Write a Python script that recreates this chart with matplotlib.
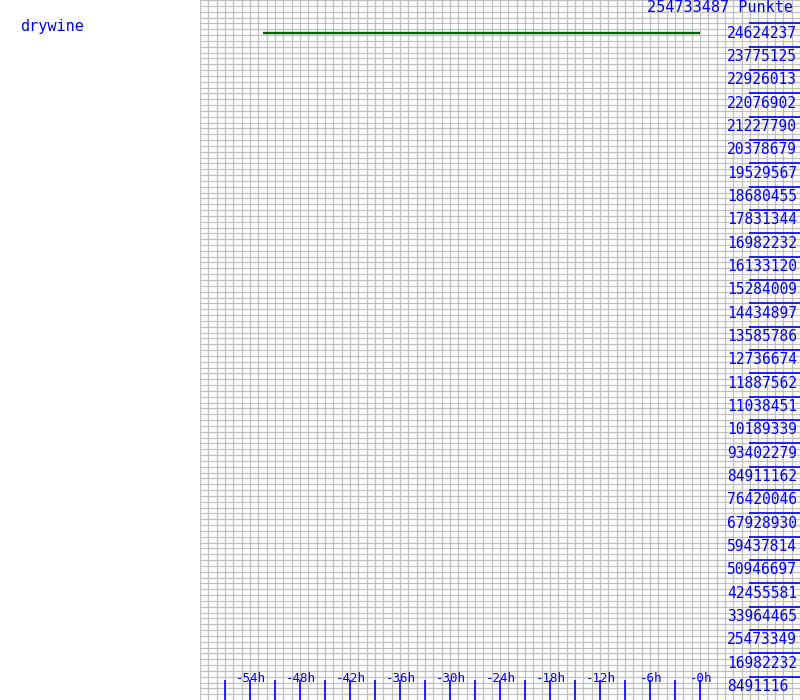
import numpy as np
from matplotlib import pyplot as plt

# data
player = "drywine"
total_points = "254733487 Punkte"
hours = [-52.5, 0]
points = [242700000, 242700000]
step = 8491116.2
y_labels = ["8491116", "16982232", "25473349", "33964465", "42455581", "50946697",
            "59437814", "67928930", "76420046", "84911162", "93402279", "10189339",
            "11038451", "11887562", "12736674", "13585786", "14434897", "15284009",
            "16133120", "16982232", "17831344", "18680455", "19529567", "20378679",
            "21227790", "22076902", "22926013", "23775125", "24624237"]
x_labels = ["-54h", "-48h", "-42h", "-36h", "-30h", "-24h", "-18h", "-12h", "-6h", "-0h"]

blue = "#0000ff"
grid = "#c0c0c0"
mono = "DejaVu Sans Mono"
px = 0.72  # points per pixel at dpi 100

fig = plt.figure(figsize=(8, 7), dpi=100)
fig.text(20 / 800, 1 - 31 / 700, player, color=blue, family=mono, fontsize=11,
         ha="left", va="baseline")

ax = fig.add_axes([0.25, 0, 0.75, 1])
ax.set_xlim(-60, 12)
ax.set_ylim(0, step * 30)
for s in ax.spines.values():
    s.set_visible(False)
ax.set_xticks([])
ax.set_yticks([])

# background grid: 1h columns, quarter-step rows
for x in np.arange(-60, 13, 1):
    ax.axvline(x, color=grid, lw=0.9, zorder=0)
for y in np.arange(0, step * 31, step / 4):
    ax.axhline(y, color=grid, lw=0.9, zorder=0)

ax.plot(hours, points, color="#006400", lw=1.7, solid_capstyle="butt", zorder=3)

# hour ticks along the bottom
xt = ax.get_xaxis_transform()
ax.vlines(np.arange(-57, 1, 3), 0, 20 / 700, transform=xt, color=blue, lw=1.2, zorder=4)
for i, lab in enumerate(x_labels):
    ax.text(-54 + 6 * i + 0.15, 18 / 700, lab, transform=xt, color=blue, family=mono,
            fontsize=9, ha="center", va="baseline", zorder=5)

# value ticks on the right
yt = ax.get_yaxis_transform()
vals = [step * (k + 1) for k in range(len(y_labels))]
ax.hlines(vals, 549 / 600, 1, transform=yt, color=blue, lw=1.2, zorder=4)
for v, lab in zip(vals, y_labels):
    ax.annotate(lab, (527 / 600, v), xycoords=yt, xytext=(0, -14.5 * px),
                textcoords="offset points", color=blue, family=mono, fontsize=10.5,
                ha="left", va="baseline", zorder=5)

ax.text(593 / 600, 1 - 12 / 700, total_points, transform=ax.transAxes, color=blue,
        family=mono, fontsize=11, ha="right", va="baseline", zorder=5)

fig.savefig("out.png", dpi=100)
plt.close()
